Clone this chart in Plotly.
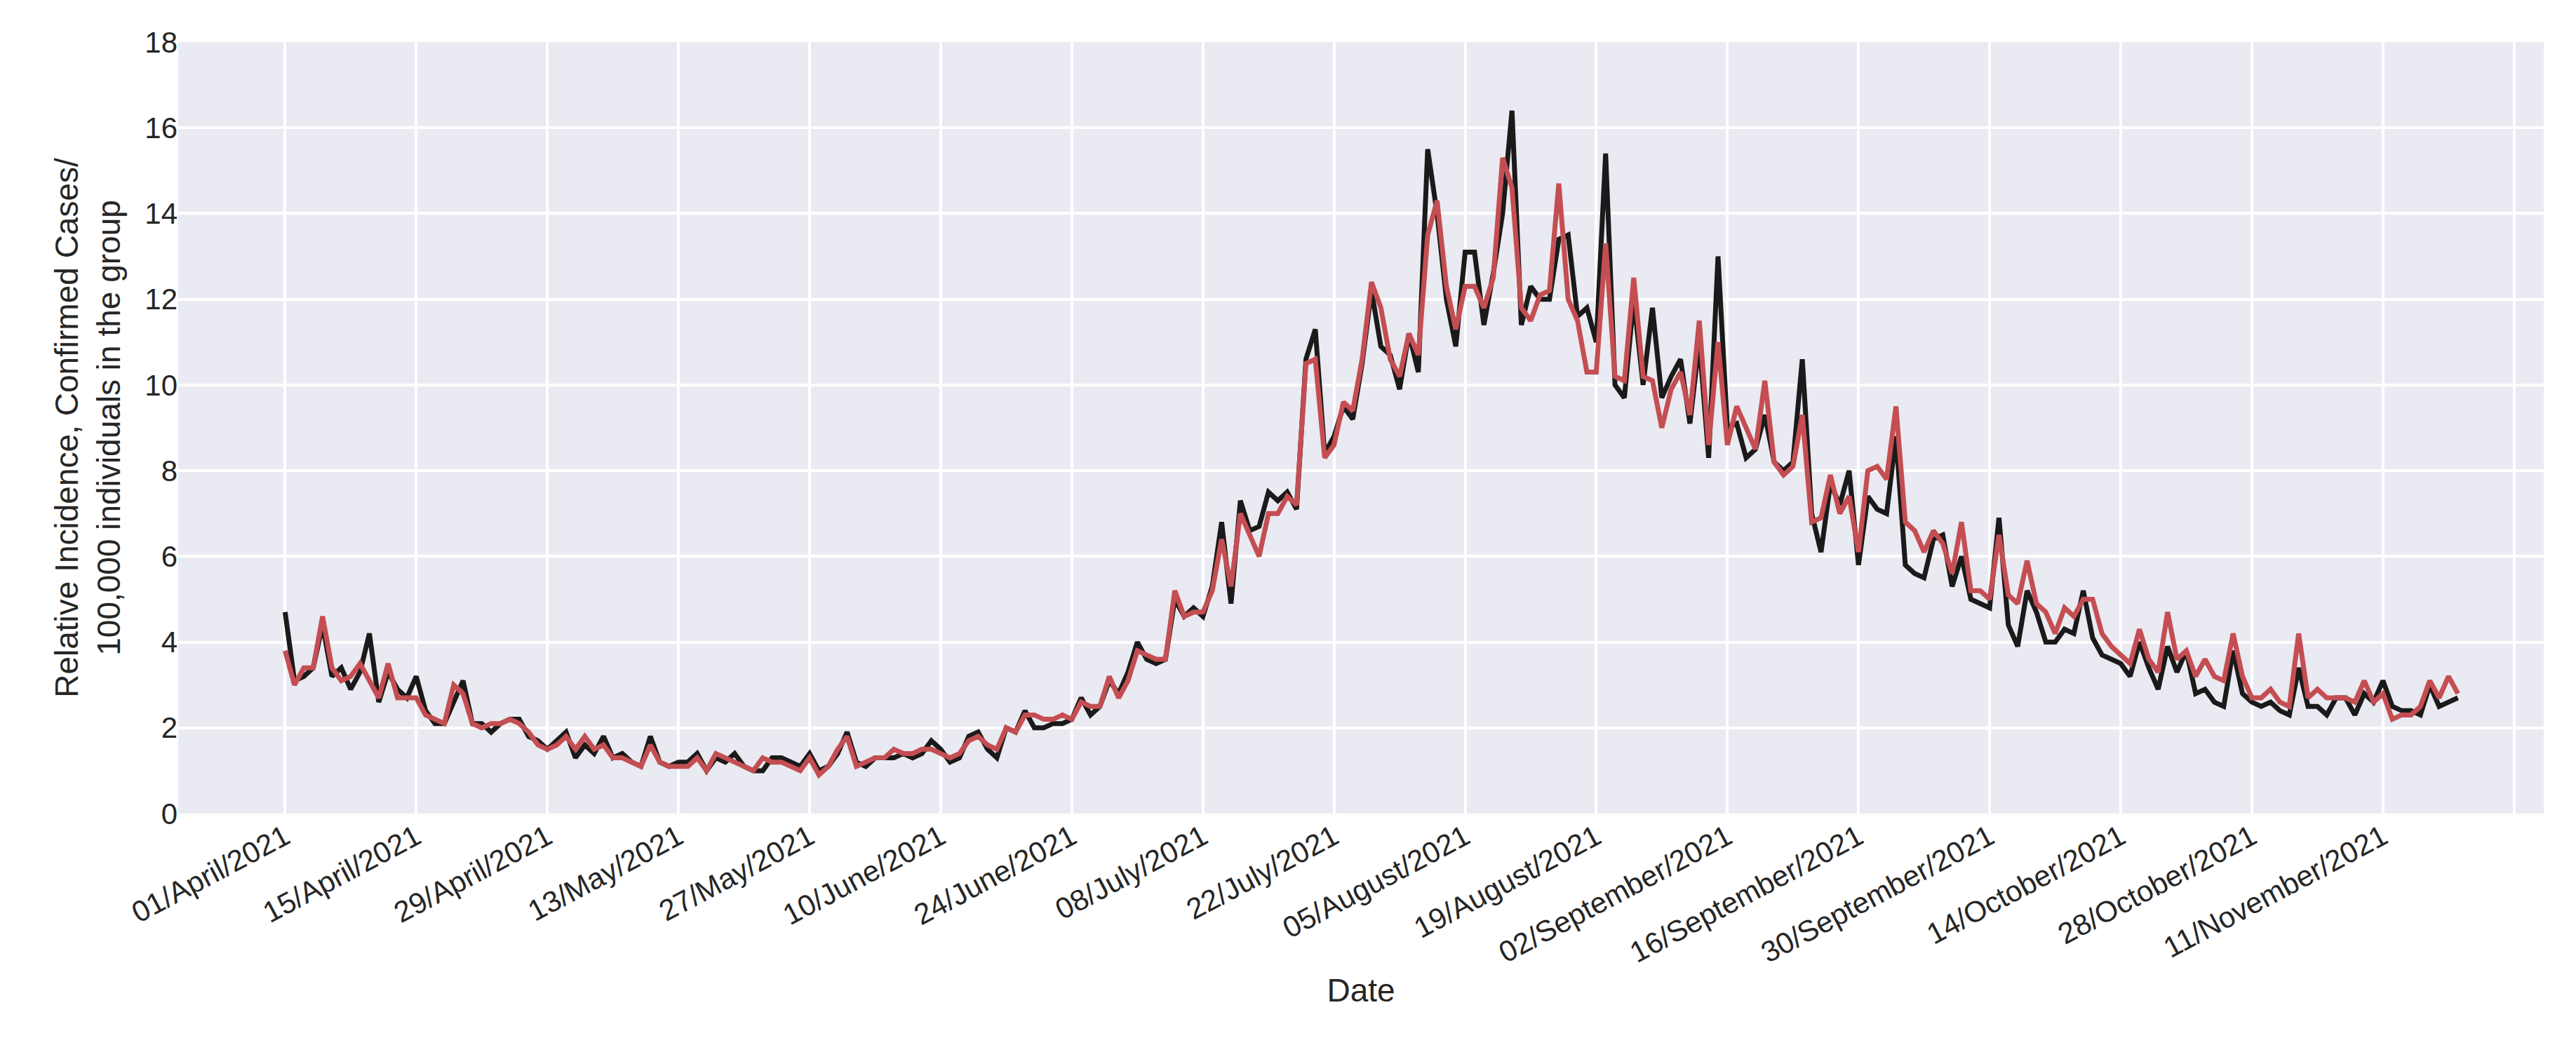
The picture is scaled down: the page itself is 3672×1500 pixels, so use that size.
import plotly.graph_objects as go
import pandas as pd

start_date = "2021-04-01"
black_vals = [
 4.7,3.1,3.2,3.4,4.4,3.2,3.4,2.9,3.3,4.2,2.6,3.3,2.9,2.7,
 3.2,2.4,2.1,2.1,2.6,3.1,2.1,2.1,1.9,2.1,2.2,2.2,1.8,1.7,
 1.5,1.7,1.9,1.3,1.6,1.4,1.8,1.3,1.4,1.2,1.1,1.8,1.2,1.1,
 1.2,1.2,1.4,1.0,1.3,1.2,1.4,1.1,1.0,1.0,1.3,1.3,1.2,1.1,
 1.4,1.0,1.1,1.4,1.9,1.2,1.1,1.3,1.3,1.3,1.4,1.3,1.4,1.7,
 1.5,1.2,1.3,1.8,1.9,1.5,1.3,2.0,1.9,2.4,2.0,2.0,2.1,2.1,
 2.2,2.7,2.3,2.5,3.1,2.8,3.3,4.0,3.6,3.5,3.6,5.0,4.6,4.8,
 4.6,5.3,6.8,4.9,7.3,6.6,6.7,7.5,7.3,7.5,7.1,10.6,11.3,8.4,
 8.8,9.5,9.2,10.5,12.2,10.9,10.7,9.9,11.2,10.3,15.5,14.0,12.0,10.9,
 13.1,13.1,11.4,12.6,14.0,16.4,11.4,12.3,12.0,12.0,13.4,13.5,11.6,11.8,
 11.0,15.4,10.0,9.7,12.0,10.0,11.8,9.7,10.2,10.6,9.1,11.0,8.3,13.0,
 9.0,9.1,8.3,8.5,9.3,8.2,8.0,8.2,10.6,7.0,6.1,7.7,7.2,8.0,
 5.8,7.4,7.1,7.0,8.8,5.8,5.6,5.5,6.4,6.5,5.3,6.0,5.0,4.9,
 4.8,6.9,4.4,3.9,5.2,4.7,4.0,4.0,4.3,4.2,5.2,4.1,3.7,3.6,
 3.5,3.2,4.0,3.4,2.9,3.9,3.3,3.8,2.8,2.9,2.6,2.5,3.8,2.8,
 2.6,2.5,2.6,2.4,2.3,3.4,2.5,2.5,2.3,2.7,2.7,2.3,2.8,2.6,
 3.1,2.5,2.4,2.4,2.3,3.0,2.5,2.6,2.7]
red_vals = [
 3.8,3.0,3.4,3.4,4.6,3.4,3.1,3.2,3.5,3.1,2.7,3.5,2.7,2.7,
 2.7,2.3,2.2,2.1,3.0,2.8,2.1,2.0,2.1,2.1,2.2,2.1,1.9,1.6,
 1.5,1.6,1.8,1.5,1.8,1.5,1.6,1.3,1.3,1.2,1.1,1.6,1.2,1.1,
 1.1,1.1,1.3,1.0,1.4,1.3,1.2,1.1,1.0,1.3,1.2,1.2,1.1,1.0,
 1.3,0.9,1.1,1.5,1.8,1.1,1.2,1.3,1.3,1.5,1.4,1.4,1.5,1.5,
 1.4,1.3,1.4,1.7,1.8,1.6,1.5,2.0,1.9,2.3,2.3,2.2,2.2,2.3,
 2.2,2.6,2.5,2.5,3.2,2.7,3.1,3.8,3.7,3.6,3.6,5.2,4.6,4.7,
 4.7,5.2,6.4,5.3,7.0,6.5,6.0,7.0,7.0,7.4,7.2,10.5,10.6,8.3,
 8.6,9.6,9.4,10.6,12.4,11.8,10.6,10.2,11.2,10.7,13.5,14.3,12.3,11.3,
 12.3,12.3,11.8,12.5,15.3,14.6,11.8,11.5,12.1,12.2,14.7,12.0,11.5,10.3,
 10.3,13.3,10.2,10.1,12.5,10.2,10.1,9.0,9.9,10.3,9.3,11.5,8.6,11.0,
 8.6,9.5,9.0,8.5,10.1,8.2,7.9,8.1,9.3,6.8,6.9,7.9,7.0,7.4,
 6.1,8.0,8.1,7.8,9.5,6.8,6.6,6.1,6.6,6.3,5.6,6.8,5.2,5.2,
 5.0,6.5,5.1,4.9,5.9,4.9,4.7,4.2,4.8,4.6,5.0,5.0,4.2,3.9,
 3.7,3.5,4.3,3.6,3.3,4.7,3.6,3.8,3.2,3.6,3.2,3.1,4.2,3.2,
 2.7,2.7,2.9,2.6,2.5,4.2,2.7,2.9,2.7,2.7,2.7,2.6,3.1,2.6,
 2.8,2.2,2.3,2.3,2.5,3.1,2.7,3.2,2.8]

dates = pd.date_range(start_date, periods=len(black_vals), freq="D")
tick_dates = pd.date_range("2021-04-01", "2021-11-25", freq="14D")
tick_labels = [d.strftime("%d/%B/%Y") for d in tick_dates[:-1]] + [""]

fig = go.Figure()
fig.add_trace(go.Scatter(x=dates, y=black_vals, mode="lines",
                         line=dict(color="#1a1a1a", width=7)))
fig.add_trace(go.Scatter(x=dates, y=red_vals, mode="lines",
                         line=dict(color="#C44E52", width=7)))

font = "Liberation Sans, Arial, sans-serif"
fig.update_layout(
    width=3672, height=1500, showlegend=False,
    paper_bgcolor="white", plot_bgcolor="#EAEAF2",
    margin=dict(l=246, r=54, t=52, b=348),
    font=dict(family=font, size=42, color="#262626"),
)
fig.update_xaxes(
    range=[pd.Timestamp("2021-03-20 14:00"), pd.Timestamp("2021-11-28 04:00")],
    tickvals=tick_dates, ticktext=tick_labels, tickangle=-28,
    showgrid=True, gridcolor="white", gridwidth=4, zeroline=False,
    showline=False, ticks="", tickfont=dict(size=42),
    title=dict(text="Date", font=dict(size=46), standoff=15),
)
fig.update_yaxes(
    range=[0, 18], tickvals=list(range(0, 19, 2)),
    showgrid=True, gridcolor="white", gridwidth=4, zeroline=False,
    showline=False, ticks="", tickfont=dict(size=42),
    title=dict(text="Relative Incidence, Confirmed Cases/<br>100,000 individuals in the group",
               font=dict(size=46), standoff=20),
)
fig.write_html("out.html")
